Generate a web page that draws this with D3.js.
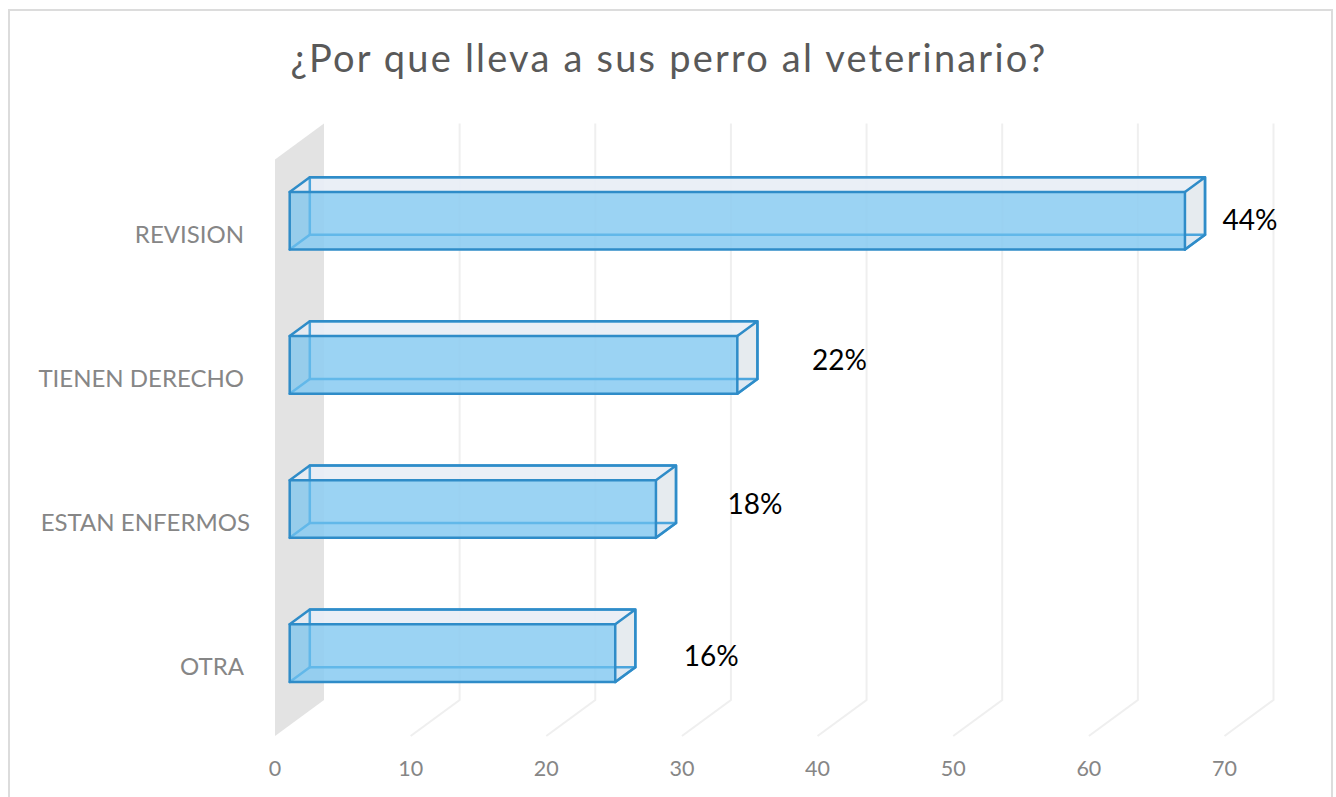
<!DOCTYPE html>
<html>
  <head>
    <meta charset="UTF-8">
    <script src="https://cdn.jsdelivr.net/npm/d3@7"></script>
    <style>
      html, body { margin: 0; padding: 0; background: #fff; overflow: hidden; }
      text { font-family: Lato, "Open Sans", sans-serif; }
    </style>
  </head>
  <body>
    <svg width="1336" height="797"></svg>

    <script type="text/javascript">
      // Chart data
      var title = '¿Por que lleva a sus perro al veterinario?';
      var categories = ['REVISION', 'TIENEN DERECHO', 'ESTAN ENFERMOS', 'OTRA'];
      var values = [66, 33, 27, 24];
      var percentLabels = ['44%', '22%', '18%', '16%'];
      var ticks = [0, 10, 20, 30, 40, 50, 60, 70];

      // Data labels were dragged by hand in the original, so they get their own nudges
      var labelNudgeX = [45, 82, 79, 76];
      var labelNudgeY = [-1, -5, -5, 3];
      var categoryNudgeX = [0, 0, 6, 0];

      var svg = d3.select('svg');

      var x = d3.scaleLinear().domain([0, 70]).range([275, 1224.5]);
      var y = d3.scaleBand().domain(categories).range([159.5, 736]).paddingInner(0.6).paddingOuter(0.3);

      // Oblique projection: d = 0 is the front of the floor, d = 1 the back wall
      var depthX = 49, depthY = -36;
      var barFront = 0.3, barBack = 0.71;

      function pt(v, py, d) {
        return [x(v) + depthX * d, py + depthY * d];
      }
      function poly(points) {
        return 'M' + points.map(function(p) { return p.join(','); }).join('L') + 'Z';
      }

      // Chart frame
      svg.append('rect')
        .attr('x', 9).attr('y', 10)
        .attr('width', 1323).attr('height', 800)
        .attr('fill', '#fff')
        .attr('stroke', '#dcdcdc')
        .attr('stroke-width', 2);

      svg.append('text')
        .attr('x', 669).attr('y', 72)
        .attr('text-anchor', 'middle')
        .attr('font-size', 38)
        .attr('letter-spacing', 2.2)
        .attr('fill', '#595959')
        .text(title);

      // Side wall
      var yTop = y.range()[0], yBottom = y.range()[1];
      svg.append('path')
        .attr('d', poly([pt(0, yTop, 0), pt(0, yTop, 1), pt(0, yBottom, 1), pt(0, yBottom, 0)]))
        .attr('fill', '#e3e3e3');

      // Gridlines: up the back wall, then forward across the floor
      svg.selectAll('.grid')
        .data(ticks.slice(1))
        .enter()
        .append('polyline')
        .attr('class', 'grid')
        .attr('fill', 'none')
        .attr('stroke', '#efefef')
        .attr('stroke-width', 2)
        .attr('points', function(d) {
          return [pt(d, yTop, 1), pt(d, yBottom, 1), pt(d, yBottom, 0)].join(' ');
        });

      // Tick labels
      svg.selectAll('.tick-label')
        .data(ticks)
        .enter()
        .append('text')
        .attr('class', 'tick-label')
        .attr('x', function(d) { return x(d); })
        .attr('y', 776)
        .attr('text-anchor', 'middle')
        .attr('font-size', 21.5)
        .attr('fill', '#868686')
        .text(function(d) { return d; });

      // Category labels
      svg.selectAll('.cat-label')
        .data(categories)
        .enter()
        .append('text')
        .attr('class', 'cat-label')
        .attr('x', function(d, i) { return 244 + categoryNudgeX[i]; })
        .attr('y', function(d) { return y(d) + y.bandwidth() / 2 + 11; })
        .attr('text-anchor', 'end')
        .attr('font-size', 24)
        .attr('fill', '#868686')
        .text(function(d) { return d; });

      // 3D bars
      var edge = '#2f8cc8', innerEdge = '#4ba5dd';
      var bars = svg.selectAll('.bar')
        .data(categories)
        .enter()
        .append('g')
        .attr('class', 'bar')
        .attr('stroke-linejoin', 'round')
        .attr('stroke-linecap', 'round');

      bars.each(function(c, i) {
        var g = d3.select(this), v = values[i];
        var t = y(c), b = y(c) + y.bandwidth();

        // back, floor and left faces, seen through the front
        g.append('path')
          .attr('d', poly([pt(0, t, barBack), pt(v, t, barBack), pt(v, b, barBack), pt(0, b, barBack)]))
          .attr('fill', 'rgba(232,238,246,0.75)');
        g.append('path')
          .attr('d', poly([pt(0, t, barFront), pt(0, t, barBack), pt(v, t, barBack), pt(v, t, barFront)]))
          .attr('fill', 'rgba(232,238,246,0.75)');
        g.append('path')
          .attr('d', poly([pt(v, t, barFront), pt(v, t, barBack), pt(v, b, barBack), pt(v, b, barFront)]))
          .attr('fill', '#e6ebef');
        g.append('path')
          .attr('d', poly([pt(0, b, barFront), pt(0, b, barBack), pt(v, b, barBack), pt(v, b, barFront)]))
          .attr('fill', 'rgba(215,230,243,0.6)');

        // hidden edges
        g.append('path')
          .attr('d', poly([pt(0, t, barBack), pt(0, b, barBack), pt(v, b, barBack), pt(v, t, barBack)]))
          .attr('fill', 'none')
          .attr('stroke', innerEdge)
          .attr('stroke-width', 2.5);
        g.append('path')
          .attr('d', 'M' + pt(0, b, barFront) + 'L' + pt(0, b, barBack) + 'M' + pt(v, b, barFront) + 'L' + pt(v, b, barBack))
          .attr('stroke', innerEdge)
          .attr('stroke-width', 2.5);

        // front face
        g.append('path')
          .attr('d', poly([pt(0, t, barFront), pt(v, t, barFront), pt(v, b, barFront), pt(0, b, barFront)]))
          .attr('fill', 'rgba(110,194,240,0.65)')
          .attr('stroke', edge)
          .attr('stroke-width', 2.5);

        // visible top and right edges
        g.append('path')
          .attr('d', 'M' + pt(0, t, barFront) + 'L' + pt(0, t, barBack) + 'L' + pt(v, t, barBack) + 'L' + pt(v, t, barFront)
            + 'M' + pt(v, t, barBack) + 'L' + pt(v, b, barBack) + 'L' + pt(v, b, barFront))
          .attr('fill', 'none')
          .attr('stroke', edge)
          .attr('stroke-width', 2.5);

        // data label
        g.append('text')
          .attr('x', pt(v, t, barBack)[0] + labelNudgeX[i])
          .attr('y', (t + b) / 2 + depthY * barFront + labelNudgeY[i] + 10)
          .attr('text-anchor', 'middle')
          .attr('font-size', 28)
          .attr('fill', '#000')
          .text(percentLabels[i]);
      });
    </script>
  </body>
</html>
